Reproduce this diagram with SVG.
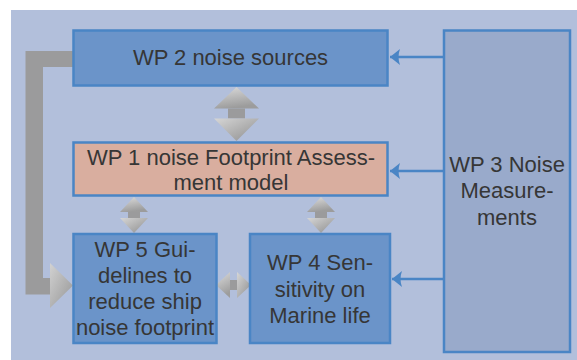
<svg xmlns="http://www.w3.org/2000/svg" width="577" height="360" viewBox="0 0 577 360">
<defs>
<style>
.box{stroke:#4A85C5;stroke-width:2.5}
.blue{fill:#6B94C9}
.t{font-family:"Liberation Sans",Arial,sans-serif;font-size:22px;fill:#363636;text-anchor:middle}
.conn{stroke:#4A85C5;stroke-width:2.5;fill:none}
.bar{fill:#9B9B9C}
</style>
<linearGradient id="gUp" x1="0" y1="0" x2="0.3" y2="1">
<stop offset="0" stop-color="#DCDCDC"/>
<stop offset="1" stop-color="#9C9C9C"/>
</linearGradient>
<linearGradient id="gDown" x1="0" y1="0" x2="1" y2="1">
<stop offset="0" stop-color="#D6D6D6"/>
<stop offset="1" stop-color="#8E8E8E"/>
</linearGradient>
<linearGradient id="gRight" x1="0" y1="0" x2="1" y2="1">
<stop offset="0" stop-color="#D2D2D2"/>
<stop offset="1" stop-color="#959595"/>
</linearGradient>
<marker id="ah" markerUnits="userSpaceOnUse" markerWidth="12" markerHeight="18" viewBox="0 0 12 18" refX="10" refY="9" orient="auto">
<path d="M0,1 L10,9 L0,17 Q3,9 0,1 Z" fill="#4A85C5"/>
</marker>
</defs>
<rect x="11" y="10" width="566" height="350" fill="#B2BFDB"/>

<g id="connectors">
<path class="conn" d="M444,57 L390,57" marker-end="url(#ah)"/>
<path class="conn" d="M444,171 L390,171" marker-end="url(#ah)"/>
<path class="conn" d="M444,279 L392,279" marker-end="url(#ah)"/>
<path d="M73,51 L25.5,51 L25.5,294.5 L51,294.5 L51,278 L43,278 L43,67 L73,67 Z" class="bar"/>
<path d="M50,263 L73,285.5 L50,308 Z" fill="url(#gRight)"/>
<g id="arrow-wp2-wp1">
<path d="M236.5,87 L259,108.5 L214,108.5 Z" fill="url(#gUp)"/>
<rect x="228" y="108.5" width="17" height="10" class="bar"/>
<path d="M214,118.5 L259,118.5 L236.5,141 Z" fill="url(#gDown)"/>
</g>
<g id="arrow-wp1-wp5">
<path d="M134,197 L148,212 L120,212 Z" fill="url(#gUp)"/>
<rect x="128" y="212" width="12" height="6" class="bar"/>
<path d="M120,218 L148,218 L134,233 Z" fill="url(#gDown)"/>
</g>
<g id="arrow-wp1-wp4">
<path d="M321,197 L335,212 L307,212 Z" fill="url(#gUp)"/>
<rect x="315" y="212" width="12" height="6" class="bar"/>
<path d="M307,218 L335,218 L321,233 Z" fill="url(#gDown)"/>
</g>
<g id="arrow-wp5-wp4">
<path d="M216,285 L230,272 L230,298 Z" fill="url(#gUp)"/>
<rect x="230" y="280" width="7" height="10" class="bar"/>
<path d="M237,272 L251,285 L237,298 Z" fill="url(#gDown)"/>
</g>
</g>

<g id="wp2">
<rect x="73.5" y="30.5" width="314" height="55" class="box blue"/>
<text class="t" x="230.5" y="65">WP 2 noise sources</text>
</g>
<g id="wp1">
<rect x="73.5" y="142.5" width="314" height="53" class="box" fill="#D9AE9F"/>
<text class="t" x="231" y="165">WP 1 noise Footprint Assess-</text>
<text class="t" x="231" y="190">ment model</text>
</g>
<g id="wp5">
<rect x="73.5" y="234" width="143" height="109" class="box blue"/>
<text class="t" x="145" y="257">WP 5 Gui-</text>
<text class="t" x="145" y="283">delines to</text>
<text class="t" x="145" y="309">reduce ship</text>
<text class="t" x="145" y="335">noise footprint</text>
</g>
<g id="wp4">
<rect x="250" y="234" width="140" height="109" class="box blue"/>
<text class="t" x="320" y="270">WP 4 Sen-</text>
<text class="t" x="320" y="297">sitivity on</text>
<text class="t" x="320" y="323">Marine life</text>
</g>
<g id="wp3">
<rect x="444" y="30.5" width="126" height="321.5" class="box" fill="#99AACB"/>
<text class="t" x="507" y="172">WP 3 Noise</text>
<text class="t" x="507" y="198">Measure-</text>
<text class="t" x="507" y="225">ments</text>
</g>
</svg>
